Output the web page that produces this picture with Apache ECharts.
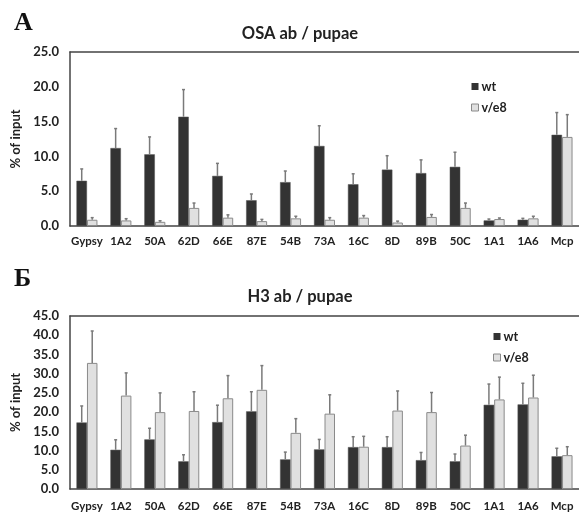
<!DOCTYPE html>
<html><head><meta charset="utf-8">
<script src="https://cdn.jsdelivr.net/npm/echarts@6/dist/echarts.min.js"></script>
<style>html,body{margin:0;padding:0;background:#fff}#c{width:579px;height:512px}</style>
</head><body><div id="c"></div>
<script>
const categories = ['Gypsy','1A2','50A','62D','66E','87E','54B','73A','16C','8D','89B','50C','1A1','1A6','Mcp'];
const osaWt     = [6.5, 11.2, 10.3, 15.7, 7.2, 3.7, 6.3, 11.5, 6.0, 8.1, 7.6, 8.5, 0.8, 0.9, 13.1];
const osaWtErr  = [1.7, 2.8, 2.5, 3.9, 1.8, 0.9, 1.6, 2.9, 1.5, 2.0, 1.9, 2.1, 0.2, 0.2, 3.2];
const osaVe8    = [0.9, 0.8, 0.6, 2.6, 1.2, 0.7, 1.1, 0.9, 1.2, 0.5, 1.3, 2.6, 1.0, 1.1, 12.8];
const osaVe8Err = [0.3, 0.25, 0.15, 0.7, 0.4, 0.25, 0.3, 0.3, 0.3, 0.2, 0.35, 0.7, 0.15, 0.3, 3.2];
const h3Wt      = [17.3, 10.2, 12.9, 7.2, 17.4, 20.2, 7.7, 10.3, 10.9, 10.9, 7.5, 7.2, 21.9, 22.0, 8.5];
const h3WtErr   = [4.3, 2.6, 2.9, 1.7, 4.4, 5.1, 1.9, 2.6, 2.7, 2.7, 2.0, 1.9, 5.4, 5.5, 2.1];
const h3Ve8     = [32.8, 24.3, 20.0, 20.3, 23.6, 25.8, 14.6, 19.6, 11.0, 20.4, 20.0, 11.3, 23.3, 23.8, 8.8];
const h3Ve8Err  = [8.3, 5.9, 5.0, 5.0, 5.9, 6.3, 3.7, 4.9, 2.7, 5.1, 5.1, 2.7, 5.8, 5.8, 2.2];
const osaTicks = {min: 0, max: 25, interval: 5};
const h3Ticks  = {min: 0, max: 45, interval: 5};

const FONT = 'Lato';
const BW = 10.5;
const DARK = '#333333', LIGHT = '#e0e0e0';

function errSeries(vals, errs, gi, side) {
  return {
    type: 'custom', xAxisIndex: gi*2, yAxisIndex: gi, z: 5, silent: true,
    data: vals.map((v, i) => [i, v, v + errs[i]]),
    renderItem: function (params, api) {
      const x = api.coord([api.value(0), 0])[0] + side * BW / 2;
      const y0 = api.coord([api.value(0), api.value(1)])[1];
      const y1 = api.coord([api.value(0), api.value(2)])[1];
      const st = {stroke: '#7a7a7a', lineWidth: 1.5};
      return {type: 'group', children: [
        {type: 'line', shape: {x1: x, y1: y0, x2: x, y2: y1}, style: st},
        {type: 'line', shape: {x1: x - 1.5, y1: y1, x2: x + 1.5, y2: y1}, style: st}
      ]};
    }
  };
}

function barSeries(name, vals, gi, light) {
  return {
    name: name, type: 'bar', xAxisIndex: gi*2, yAxisIndex: gi, data: vals,
    barWidth: BW, barGap: '0%',
    itemStyle: light ? {color: LIGHT, borderColor: '#8a8a8a', borderWidth: 1} : {color: DARK, borderColor: '#555', borderWidth: 0.5}
  };
}

const grids = [
  {left: 70, top: 52, width: 510, height: 174},
  {left: 70, top: 316, width: 510, height: 173}
];
const axisLine = {show: true, lineStyle: {color: '#444', width: 1.5}};
const xAxes = [];
[0, 1].forEach(gi => {
  xAxes.push({type: 'category', gridIndex: gi, data: categories, axisLine: axisLine, axisTick: {show: false},
    axisLabel: {color: '#222', fontFamily: FONT, fontWeight: 'bold', fontSize: 11.5, margin: gi ? 11 : 9, interval: 0}});
  xAxes.push({type: 'category', gridIndex: gi, position: 'top', data: categories, axisLine: axisLine,
    axisTick: {show: false}, axisLabel: {show: false}});
});
const yAxes = [osaTicks, h3Ticks].map((t, gi) => ({
  type: 'value', gridIndex: gi, min: t.min, max: t.max, interval: t.interval,
  name: '% of input', nameLocation: 'middle', nameGap: 41, nameRotate: 90,
  nameTextStyle: {color: '#222', fontFamily: FONT, fontWeight: 'bold', fontSize: 13},
  axisLine: axisLine, axisTick: {show: false}, splitLine: {show: false},
  axisLabel: {color: '#222', fontFamily: FONT, fontWeight: 'bold', fontSize: 13, margin: 11,
    formatter: v => v.toFixed(1)}
}));

const option = {
  animation: false,
  title: [
    {text: 'OSA ab / pupae', left: 295, top: 20, textAlign: 'center', textStyle: {fontFamily: FONT, fontWeight: 'bold', fontSize: 16.5, color: '#222'}},
    {text: 'H3 ab / pupae', left: 295, top: 283, textAlign: 'center', textStyle: {fontFamily: FONT, fontWeight: 'bold', fontSize: 16.5, color: '#222'}},
    {text: 'A', left: 9, top: 5, textStyle: {fontFamily: 'Liberation Serif', fontWeight: 'bold', fontSize: 26, color: '#111'}},
    {text: 'Б', left: 9, top: 261, textStyle: {fontFamily: 'Liberation Serif', fontWeight: 'bold', fontSize: 26, color: '#111'}}
  ],
  legend: [
    {orient: 'vertical', left: 466, top: 75, itemWidth: 7, itemHeight: 7, itemGap: 8, icon: 'rect',
     data: [{name: 'wt', itemStyle: {color: DARK, borderWidth: 0}}, {name: 'v/e8 ', itemStyle: {color: LIGHT, borderColor: '#8a8a8a', borderWidth: 1}}],
     textStyle: {fontFamily: FONT, fontWeight: 'bold', fontSize: 12.5, color: '#222', padding: [0,0,0,-2]}},
    {orient: 'vertical', left: 488, top: 325, itemWidth: 7, itemHeight: 7, itemGap: 8, icon: 'rect',
     data: [{name: 'wt', itemStyle: {color: DARK, borderWidth: 0}}, {name: 'v/e8', itemStyle: {color: LIGHT, borderColor: '#8a8a8a', borderWidth: 1}}],
     textStyle: {fontFamily: FONT, fontWeight: 'bold', fontSize: 12.5, color: '#222', padding: [0,0,0,-2]}}
  ],
  grid: grids,
  xAxis: xAxes,
  yAxis: yAxes,
  series: [
    barSeries('wt', osaWt, 0, false), barSeries('v/e8 ', osaVe8, 0, true),
    errSeries(osaWt, osaWtErr, 0, -1), errSeries(osaVe8, osaVe8Err, 0, 1),
    barSeries('wt', h3Wt, 1, false), barSeries('v/e8', h3Ve8, 1, true),
    errSeries(h3Wt, h3WtErr, 1, -1), errSeries(h3Ve8, h3Ve8Err, 1, 1)
  ]
};
const chart = echarts.init(document.getElementById('c'));
chart.setOption(option);
</script></body></html>
